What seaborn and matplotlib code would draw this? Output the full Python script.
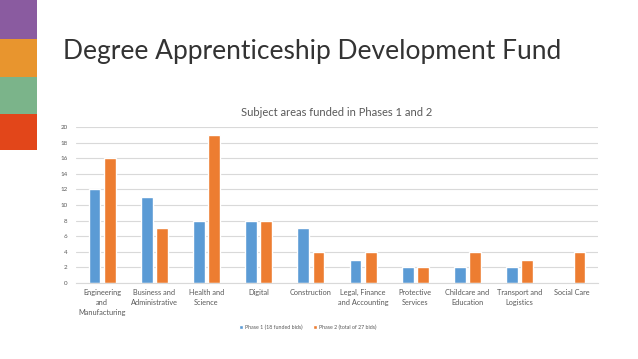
import matplotlib
matplotlib.use("Agg")
import matplotlib.pyplot as plt
import seaborn as sns
import pandas as pd
from matplotlib.patches import Rectangle

categories = ["Engineering\nand\nManufacturing", "Business and\nAdministrative", "Health and\nScience",
              "Digital", "Construction", "Legal, Finance\nand Accounting", "Protective\nServices",
              "Childcare and\nEducation", "Transport and\nLogistics", "Social Care"]
phase1 = [12, 11, 8, 8, 7, 3, 2, 2, 2, 0]
phase2 = [16, 7, 19, 8, 4, 4, 2, 4, 3, 4]
series = ["Phase 1 (18 funded bids)", "Phase 2 (total of 27 bids)"]
yticks = [0, 2, 4, 6, 8, 10, 12, 14, 16, 18, 20]

df = pd.DataFrame({
    "cat": categories * 2,
    "val": phase1 + phase2,
    "series": [series[0]] * len(categories) + [series[1]] * len(categories),
})

sns.set_theme(style="white")
plt.rcParams['font.family'] = ['Lato', 'DejaVu Sans']

fig = plt.figure(figsize=(6.38, 3.59), dpi=100)
fig.patch.set_facecolor("white")

# decorative side blocks
side_colors = ["#8A5BA0", "#E8952E", "#7BB48A", "#E2461A"]
for i, c in enumerate(side_colors):
    top = 1 - i * 37.5 / 359
    h = 37.5 / 359 + (1.5 / 359 if i < 3 else 0)
    fig.patches.append(Rectangle((0, top - h), 37 / 638, h,
                                 transform=fig.transFigure, facecolor=c, edgecolor="none",
                                 zorder=-i))

fig.text(63 / 638, 1 - 52 / 359, "Degree Apprenticeship Development Fund", fontsize=19.0,
         color="#333333", va="center", ha="left")

ax = fig.add_axes([76 / 638, 1 - 283 / 359, 522 / 638, 156 / 359])
sns.barplot(data=df, x="cat", y="val", hue="series", palette=["#5B9BD5", "#ED7D31"],
            width=0.58, gap=0.22, ax=ax, legend=True, saturation=1)
ax.set_xlim(-0.5, 9.5)
ax.set_ylim(0, 20)
ax.set_yticks(yticks)
ax.set_yticklabels([str(t) for t in yticks], fontsize=4.5, color="#595959")
ax.tick_params(axis="x", labelsize=5.3, labelcolor="#595959", length=0, pad=4)
ax.tick_params(axis="y", length=0, pad=6)
ax.set_xlabel("")
ax.set_ylabel("")
ax.yaxis.grid(True, color="#D9D9D9", linewidth=0.8)
ax.set_axisbelow(True)
for s in ["top", "right", "left"]:
    ax.spines[s].set_visible(False)
ax.spines["bottom"].set_color("#D9D9D9")
ax.spines["bottom"].set_linewidth(0.8)
for lbl in ax.get_xticklabels():
    lbl.set_linespacing(1.5)

ax.set_title("Subject areas funded in Phases 1 and 2", fontsize=8, color="#595959", pad=8)

leg = ax.legend(loc="center", bbox_to_anchor=((308 - 76) / 522, -(327 - 283) / 156),
                ncol=2, frameon=False, fontsize=3.8, handlelength=0.6, handleheight=0.6,
                columnspacing=2.0, handletextpad=0.5)
for t in leg.get_texts():
    t.set_color("#595959")

fig.savefig("out.png", dpi=100, facecolor="white")
